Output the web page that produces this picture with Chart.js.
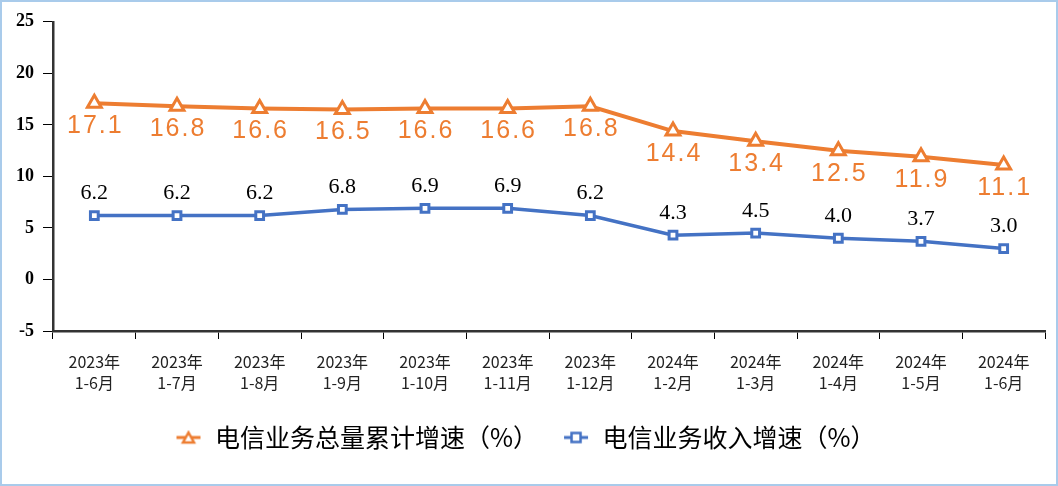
<!DOCTYPE html>
<html>
<head>
<meta charset="utf-8">
<script src="https://cdn.jsdelivr.net/npm/chart.js@4.4.1/dist/chart.umd.min.js"></script>
<style>
  html, body { margin: 0; padding: 0; background: #fff; }
  #wrap { width: 1058px; height: 486px; box-sizing: border-box; border: 2px solid #a9cbeb; position: relative; }
</style>
</head>
<body>
<div id="wrap"><canvas id="chart" width="1054" height="482"></canvas></div>
<script>
// data
const yearLabels = ['2023年', '2023年', '2023年', '2023年', '2023年', '2023年', '2023年', '2024年', '2024年', '2024年', '2024年', '2024年'];
const monthLabels = ['1-6月', '1-7月', '1-8月', '1-9月', '1-10月', '1-11月', '1-12月', '1-2月', '1-3月', '1-4月', '1-5月', '1-6月'];
const totalGrowth = [17.1, 16.8, 16.6, 16.5, 16.6, 16.6, 16.8, 14.4, 13.4, 12.5, 11.9, 11.1];
const revenueGrowth = [6.2, 6.2, 6.2, 6.8, 6.9, 6.9, 6.2, 4.3, 4.5, 4.0, 3.7, 3.0];
const seriesNames = ['电信业务总量累计增速（%）', '电信业务收入增速（%）'];

const ORANGE = '#ED7D31';
const BLUE = '#4472C4';

const labels = yearLabels.map((y, i) => [y, monthLabels[i]]);

// small canvases for the legend markers (short line + hollow marker)
function legendIcon(color, shape) {
  const c = document.createElement('canvas');
  c.width = 26; c.height = 16;
  const g = c.getContext('2d');
  g.strokeStyle = color;
  g.lineWidth = 3;
  g.beginPath(); g.moveTo(1, 8); g.lineTo(25, 8); g.stroke();
  g.fillStyle = '#fff';
  g.lineWidth = 2.5;
  g.beginPath();
  if (shape === 'triangle') {
    g.moveTo(13, 3); g.lineTo(18.5, 13); g.lineTo(7.5, 13); g.closePath();
  } else {
    g.rect(8.5, 3.5, 9, 9);
  }
  g.fill(); g.stroke();
  return c;
}
const icons = [legendIcon(ORANGE, 'triangle'), legendIcon(BLUE, 'rect')];

// value labels: orange below the points, black above
const valueLabels = {
  id: 'valueLabels',
  afterDatasetsDraw(chart) {
    const ctx = chart.ctx;
    ctx.save();
    ctx.textAlign = 'center';
    ctx.textBaseline = 'middle';
    chart.data.datasets.forEach((ds, i) => {
      const meta = chart.getDatasetMeta(i);
      meta.data.forEach((pt, j) => {
        const v = ds.data[j].toFixed(1);
        if (i === 0) {
          ctx.font = '25px "Liberation Sans", Arial, sans-serif';
          ctx.letterSpacing = '2px';
          ctx.fillStyle = ORANGE;
          ctx.fillText(v, pt.x + 1, pt.y + 23);
        } else {
          ctx.font = '22px "Liberation Serif", "Times New Roman", serif';
          ctx.letterSpacing = '0px';
          ctx.fillStyle = '#000';
          ctx.fillText(v, pt.x, pt.y - 22);
        }
      });
    });
    ctx.restore();
  }
};

new Chart(document.getElementById('chart'), {
  type: 'line',
  data: {
    labels: labels,
    datasets: [
      {
        label: seriesNames[0],
        data: totalGrowth,
        borderColor: ORANGE,
        borderWidth: 4,
        pointStyle: 'triangle',
        pointRadius: 8,
        pointBorderWidth: 3,
        pointBackgroundColor: '#fff',
        pointBorderColor: ORANGE,
        tension: 0
      },
      {
        label: seriesNames[1],
        data: revenueGrowth,
        borderColor: BLUE,
        borderWidth: 3.5,
        pointStyle: 'rect',
        pointRadius: 5.5,
        pointBorderWidth: 3,
        pointBackgroundColor: '#fff',
        pointBorderColor: BLUE,
        tension: 0
      }
    ]
  },
  options: {
    responsive: false,
    animation: false,
    layout: { padding: { left: 0, right: 8, top: 18, bottom: 24 } },
    plugins: {
      tooltip: { enabled: false },
      legend: {
        position: 'bottom',
        labels: {
          usePointStyle: true,
          pointStyleWidth: 28,
          boxHeight: 16,
          padding: 24,
          color: '#000',
          font: { size: 25, family: '"Noto Sans CJK SC", sans-serif' },
          generateLabels(chart) {
            return chart.data.datasets.map((ds, i) => ({
              text: ds.label,
              pointStyle: icons[i],
              fillStyle: '#fff',
              strokeStyle: ds.borderColor,
              lineWidth: 0,
              datasetIndex: i,
              hidden: false
            }));
          }
        }
      }
    },
    scales: {
      x: {
        offset: true,
        grid: { display: true, offset: true, drawOnChartArea: false, drawTicks: true, tickLength: 8, color: '#000', lineWidth: 1 },
        border: { display: true, color: '#333', width: 2.5 },
        ticks: {
          color: '#222',
          maxRotation: 0,
          autoSkip: false,
          padding: 12,
          font: { size: 16, family: '"Noto Sans CJK SC", sans-serif', lineHeight: 1.35 }
        },
        afterFit(scale) { scale.height = 70; }
      },
      y: {
        min: -5,
        max: 25,
        ticks: {
          stepSize: 5,
          color: '#000',
          padding: 9,
          font: { size: 18, weight: 'bold', family: '"Liberation Serif", "Times New Roman", serif' }
        },
        grid: { display: true, drawOnChartArea: false, drawTicks: true, tickLength: 10, color: '#000', lineWidth: 1 },
        border: { display: true, color: '#333', width: 2.5 },
        afterFit(scale) { scale.width = 51; }
      }
    }
  },
  plugins: [valueLabels]
});
</script>
</body>
</html>
